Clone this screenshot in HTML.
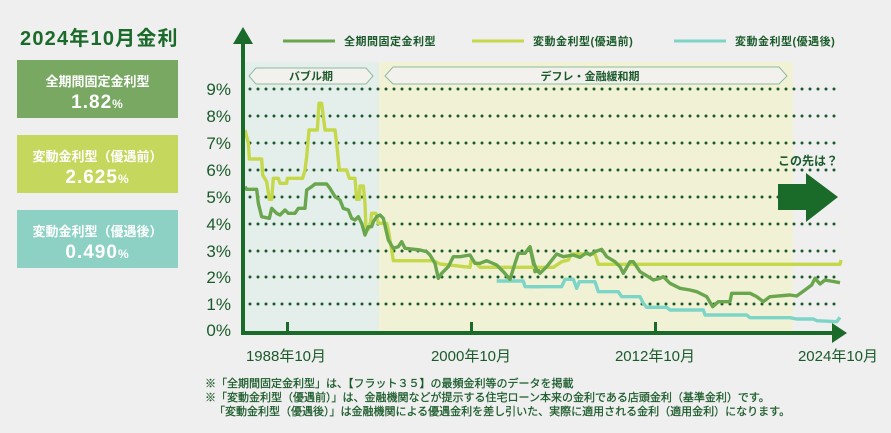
<!DOCTYPE html>
<html><head><meta charset="utf-8"><style>
body{margin:0;width:891px;height:433px;background:#efefef;overflow:hidden;font-family:"Liberation Sans","Noto Sans CJK JP",sans-serif;}
.box{position:absolute;left:17px;width:161px;height:58px;color:#fff;text-align:center;font-weight:bold;}
.box .a{font-size:13px;margin-top:11px;}
.box .b{font-size:19px;margin-top:2px;letter-spacing:1px;}
.box .b small{font-size:12px;}
</style></head><body>
<div style="position:absolute;left:20px;top:22px;font-size:20px;font-weight:bold;color:#1a6a2a;letter-spacing:1.2px;">2024年10月金利</div>
<div class="box" style="top:60px;background:#78a862;"><div class="a">全期間固定金利型</div><div class="b">1.82<small>%</small></div></div>
<div class="box" style="top:135px;background:#c6d75e;"><div class="a">変動金利型（優遇前）</div><div class="b">2.625<small>%</small></div></div>
<div class="box" style="top:210px;background:#8dd1c4;"><div class="a">変動金利型（優遇後）</div><div class="b">0.490<small>%</small></div></div>
<svg width="891" height="433" style="position:absolute;left:0;top:0" font-family="Liberation Sans, Noto Sans CJK JP, sans-serif">
<rect x="245" y="62" width="134" height="270" fill="#e4efec"/>
<rect x="379" y="62" width="414" height="270" fill="#f1f2d5"/>
<polygon points="256,68 366,68 373,76 366,84 256,84 249,76" fill="#f3f1ee" stroke="#8dbb9d"/>
<text x="311" y="80" font-size="11" font-weight="bold" fill="#1a5a2a" text-anchor="middle">バブル期</text>
<polygon points="393,67 779,67 787,76 779,84 393,84 385,76" fill="#f3f1ee" stroke="#8dbb9d"/>
<text x="590" y="80" font-size="11" font-weight="bold" fill="#1a5a2a" text-anchor="middle">デフレ・金融緩和期</text>
<g stroke="#1a5a2a" stroke-width="3" stroke-linecap="round" stroke-dasharray="0 8">
<line x1="250" y1="89" x2="838" y2="89"/><line x1="250" y1="116" x2="838" y2="116"/><line x1="250" y1="143" x2="838" y2="143"/><line x1="250" y1="170" x2="838" y2="170"/><line x1="250" y1="197" x2="838" y2="197"/><line x1="250" y1="224" x2="838" y2="224"/><line x1="250" y1="251" x2="838" y2="251"/><line x1="250" y1="277" x2="838" y2="277"/><line x1="250" y1="304" x2="838" y2="304"/>
</g>
<g font-size="17" fill="#1a5a2a" text-anchor="end">
<text x="231" y="95">9%</text><text x="231" y="122">8%</text><text x="231" y="149">7%</text><text x="231" y="176">6%</text><text x="231" y="203">5%</text><text x="231" y="230">4%</text><text x="231" y="257">3%</text><text x="231" y="283">2%</text><text x="231" y="310">1%</text><text x="231" y="336">0%</text>
</g>
<g fill="none" stroke-linejoin="round" stroke-width="3.4" >
<g transform="translate(240,90) scale(0.33333)">
<polyline vector-effect="non-scaling-stroke" stroke="#c5d84a" points="15,120 25,160 28,207 65,207 68,255 80,275 88,328 95,328 100,265 115,265 120,280 140,280 142,265 188,265 195,240 200,200 207,120 232,120 237,40 245,40 255,120 285,120 290,160 298,240 320,240 328,265 345,265 350,328 358,328 360,288 370,288 375,340 378,420 383,420 390,410 395,370 408,370 415,400 440,400 445,420 455,480 460,512 580,512 600,522 690,532 693,512 700,512 720,532 900,532"/>
<polyline vector-effect="non-scaling-stroke" stroke="#7dd5c8" points="770,573 850,573 855,590 900,590"/>
<polyline vector-effect="non-scaling-stroke" stroke="#6aa64e" points="15,290 20,298 50,298 55,340 65,380 88,385 95,355 110,370 120,375 135,360 145,370 165,370 175,355 195,355 200,300 215,290 225,282 260,282 270,295 285,320 300,330 310,355 325,360 335,385 345,390 355,380 365,400 375,435 385,410 395,410 400,395 410,380 420,375 430,385 445,450 460,475 475,470 485,455 495,475 540,480 560,485 570,495 585,520 595,565 605,550 625,530 640,500 660,500 690,495 705,520 720,520 740,512 770,525 790,545 810,568 825,520 835,490 855,490 870,470 885,545 900,540"/>
</g>
<g transform="translate(530,230) scale(0.33333)">
<polyline vector-effect="non-scaling-stroke" stroke="#c5d84a" points="0,112 30,112 70,112 95,95 115,90 125,72 195,72 205,103 930,103 933,90"/>
<polyline vector-effect="non-scaling-stroke" stroke="#7dd5c8" points="0,170 95,170 105,148 130,148 140,175 148,155 195,155 205,185 265,185 275,200 330,200 340,220 350,232 410,232 420,240 520,240 525,255 650,255 660,263 780,263 800,267 850,267 860,272 920,275 930,262"/>
<polyline vector-effect="non-scaling-stroke" stroke="#6aa64e" points="0,50 12,100 20,120 30,130 50,110 80,72 100,80 130,75 150,82 170,68 180,75 195,65 215,58 230,80 255,95 270,110 280,130 300,95 310,95 330,125 355,140 370,150 390,145 400,140 420,160 450,175 480,180 500,185 530,200 548,230 565,215 600,215 605,190 640,190 660,190 680,200 700,215 720,200 780,195 800,198 825,180 845,165 855,145 870,162 885,150 930,158"/>
</g>
</g>
<rect x="241" y="40" width="4" height="295" fill="#1a6a2a"/>
<polygon points="243,27 233,44 253,44" fill="#1a6a2a"/>
<rect x="241" y="331" width="594" height="4" fill="#1a6a2a"/>
<polygon points="847,333 832,323 832,343" fill="#1a6a2a"/>
<rect x="286" y="322" width="3" height="10" fill="#1a6a2a"/>
<rect x="470" y="322" width="3" height="10" fill="#1a6a2a"/>
<rect x="654" y="322" width="3" height="10" fill="#1a6a2a"/>
<g font-size="15" fill="#1a5a2a" text-anchor="middle">
<text x="286" y="361">1988年10月</text><text x="471" y="361">2000年10月</text><text x="655" y="361">2012年10月</text><text x="838" y="361">2024年10月</text>
</g>
<rect x="778" y="184" width="30" height="26" fill="#1a6a2a"/>
<polygon points="806,173 838,197 806,222" fill="#1a6a2a"/>
<text x="808" y="165" font-size="12" font-weight="bold" fill="#1a5a2a" text-anchor="middle">この先は？</text>
<g font-size="11" font-weight="bold" fill="#1a5a2a" letter-spacing="0.5">
<line x1="283" y1="41" x2="335" y2="41" stroke="#6aa64e" stroke-width="3"/><text x="344" y="45">全期間固定金利型</text>
<line x1="472" y1="41" x2="524" y2="41" stroke="#c5d84a" stroke-width="3"/><text x="533" y="45">変動金利型(優遇前)</text>
<line x1="674" y1="41" x2="726" y2="41" stroke="#7dd5c8" stroke-width="3"/><text x="735" y="45">変動金利型(優遇後)</text>
</g>
<g font-size="11" fill="#1a5a2a" stroke="#1a5a2a" stroke-width="0.25">
<text x="205" y="387">※「全期間固定金利型」は、【フラット３５】の最頻金利等のデータを掲載</text>
<text x="205" y="401">※「変動金利型（優遇前）」は、金融機関などが提示する住宅ローン本来の金利である店頭金利（基準金利）です。</text>
<text x="214" y="415">「変動金利型（優遇後）」は金融機関による優遇金利を差し引いた、実際に適用される金利（適用金利）になります。</text>
</g>
</svg>
</body></html>
